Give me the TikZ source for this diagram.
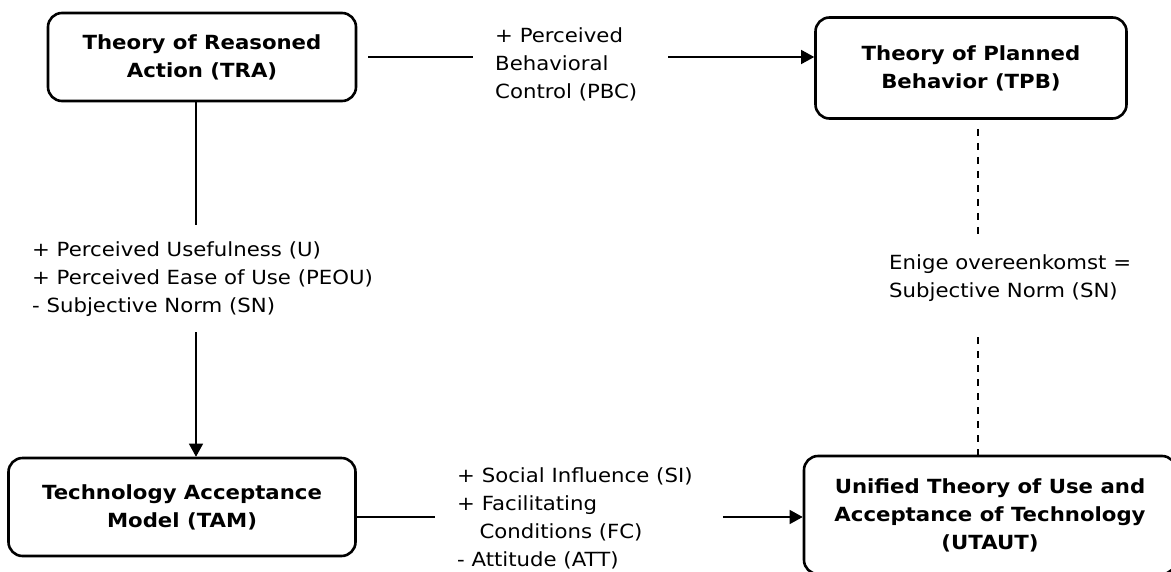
\documentclass[tikz,border=0pt]{standalone}
\usepackage{fontspec}
\setmainfont{DejaVu Sans}[FakeStretch=1.09]
\usetikzlibrary{arrows.meta}

\begin{document}
\begin{tikzpicture}[
    x=1pt, y=-1pt,
    theory/.style={rectangle, draw, line width=2.6pt, rounded corners=14pt, align=center, font=\fontsize{19.5}{28}\selectfont\bfseries},
    lbl/.style={align=left, inner xsep=22pt, inner ysep=16pt, anchor=north west, font=\fontsize{19.5}{28}\selectfont},
    conn/.style={line width=1.3pt},
    arrow/.style={-{Triangle[length=13pt, width=14pt]}, line width=1.3pt},
    similar/.style={line width=1.5pt, dash pattern=on 7pt off 7pt}
]
\useasboundingbox (0,0) rectangle (1171,571);

% Theories
\node[theory, minimum width=308pt, minimum height=88pt] (tra) at (202,57) {Theory of Reasoned\\Action (TRA)};
\node[theory, minimum width=311pt, minimum height=101pt] (tpb) at (971,68) {Theory of Planned\\Behavior (TPB)};
\node[theory, minimum width=347pt, minimum height=98pt] (tam) at (182,507) {Technology Acceptance\\Model (TAM)};
\node[theory, minimum width=372pt, minimum height=118pt] (utaut) at (990,515) {Unified Theory of Use and\\Acceptance of Technology\\(UTAUT)};

% Labels on the connectors
\node[lbl] (pbc) at (473,11) {+ Perceived\\Behavioral\\Control (PBC)};
\node[lbl] (peou) at (10,225) {+ Perceived Usefulness (U)\\+ Perceived Ease of Use (PEOU)\\- Subjective Norm (SN)};
\node[lbl] (sn) at (867,238) {Enige overeenkomst =\\Subjective Norm (SN)};
\node[lbl] (si) at (435,451) {+ Social Influence (SI)\\+ Facilitating\\\hspace*{1.15em}Conditions (FC)\\- Attitude (ATT)};

% TRA -> TPB
\draw[conn, shorten <=11pt] (tra.east) -- (tra.east -| pbc.west);
\draw[arrow, shorten <=9pt] (tra.east -| pbc.east) -- (tra.east -| tpb.west);

% TRA -> TAM
\draw[conn] (tra.south -| 196,0) -- (peou.north -| 196,0);
\draw[arrow] (peou.south -| 196,0) -- (tam.north -| 196,0);

% TAM -> UTAUT
\draw[conn] ([yshift=-10pt]tam.east) -- ([yshift=-10pt]tam.east -| si.west);
\draw[arrow, shorten <=8pt] ([yshift=-10pt]tam.east -| si.east) -- ([yshift=-10pt]tam.east -| utaut.west);

% TPB and UTAUT
\draw[similar] (tpb.south -| 978,0) ++(0,9) -- (sn.north -| 978,0);
\draw[similar, shorten <=20pt] (sn.south -| 978,0) -- (utaut.north -| 978,0);

\end{tikzpicture}
\end{document}
